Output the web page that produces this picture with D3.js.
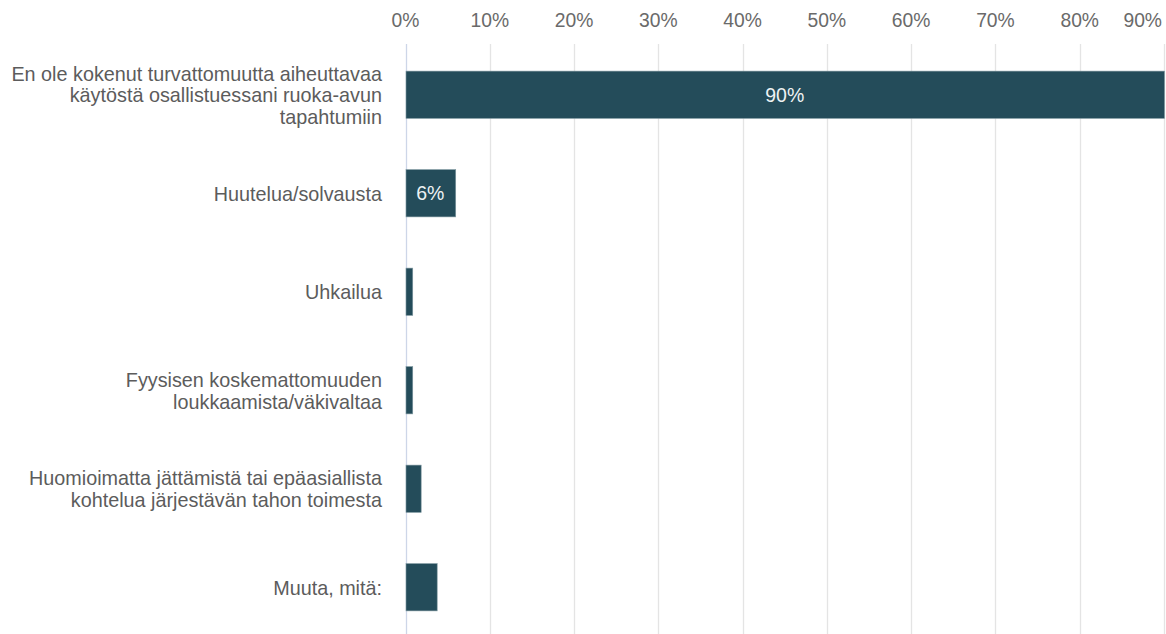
<!DOCTYPE html>
<html>
<head>
<meta charset="utf-8">
<script src="https://cdn.jsdelivr.net/npm/d3@7"></script>
<style>
  body { margin: 0; background: #fff; }
  text { font-family: "Liberation Sans", Arial, sans-serif; }
</style>
</head>
<body>
<div id="chart"></div>
<script>
// answer categories (lines split as in the original)
const categories = [
  ["En ole kokenut turvattomuutta aiheuttavaa", "käytöstä osallistuessani ruoka-avun", "tapahtumiin"],
  ["Huutelua/solvausta"],
  ["Uhkailua"],
  ["Fyysisen koskemattomuuden", "loukkaamista/väkivaltaa"],
  ["Huomioimatta jättämistä tai epäasiallista", "kohtelua järjestävän tahon toimesta"],
  ["Muuta, mitä:"]
];
// share of respondents, %
const values = [90, 5.9, 0.8, 0.8, 1.8, 3.7];
const tickValues = [0, 10, 20, 30, 40, 50, 60, 70, 80, 90];

const W = 1166, H = 634;
const margin = { top: 45.5, right: 2, bottom: -2.5, left: 405.5 };

const svg = d3.select("#chart").append("svg")
  .attr("width", W)
  .attr("height", H);

const x = d3.scaleLinear()
  .domain([0, 90])
  .range([margin.left, W - margin.right]);

const y = d3.scaleBand()
  .domain(d3.range(categories.length))
  .range([margin.top, H - margin.bottom])
  .paddingInner(0.52)
  .paddingOuter(0.26);

// grid lines
svg.append("g")
  .selectAll("line")
  .data(tickValues)
  .join("line")
  .attr("x1", d => Math.round(x(d)) + 0.5)
  .attr("x2", d => Math.round(x(d)) + 0.5)
  .attr("y1", 44)
  .attr("y2", H)
  .attr("stroke", d => d === 0 ? "#cdd6e8" : "#e4e4e4")
  .attr("stroke-width", 1.3);

// tick labels on top
svg.append("g")
  .selectAll("text")
  .data(tickValues)
  .join("text")
  .attr("x", (d, i) => i === tickValues.length - 1 ? x(d) - 2 : x(d))
  .attr("y", 27)
  .attr("text-anchor", (d, i) => i === tickValues.length - 1 ? "end" : "middle")
  .attr("font-size", "19.3px")
  .attr("fill", "#6a6a6a")
  .text(d => d + "%");

// bars
svg.append("g")
  .selectAll("rect")
  .data(values)
  .join("rect")
  .attr("x", x(0) + 0.5)
  .attr("y", (d, i) => y(i))
  .attr("width", d => x(d) - x(0))
  .attr("height", y.bandwidth())
  .attr("fill", "#244c5a")
  .attr("stroke", "#7f98a0")
  .attr("stroke-width", 0.6);

// value labels for the larger bars
svg.append("g")
  .selectAll("text")
  .data(values.map((v, i) => ({ v, i })).filter(d => d.v >= 5))
  .join("text")
  .attr("x", d => (x(0) + x(d.v)) / 2)
  .attr("y", d => y(d.i) + y.bandwidth() / 2 + 7)
  .attr("text-anchor", "middle")
  .attr("font-size", "19.5px")
  .attr("fill", "#eef2f3")
  .text(d => Math.round(d.v) + "%");

// category labels
const lineH = 21.7;
const labels = svg.append("g")
  .selectAll("text")
  .data(categories)
  .join("text")
  .attr("text-anchor", "end")
  .attr("font-size", "19.8px")
  .attr("fill", "#5c5c5c")
  .attr("transform", (d, i) => {
    const cy = y(i) + y.bandwidth() / 2;
    const top = cy - (d.length - 1) * lineH / 2 + 7.5;
    return `translate(382, ${top})`;
  });

labels.selectAll("tspan")
  .data(d => d)
  .join("tspan")
  .attr("x", 0)
  .attr("y", (d, i) => i * lineH)
  .text(d => d);
</script>
</body>
</html>
